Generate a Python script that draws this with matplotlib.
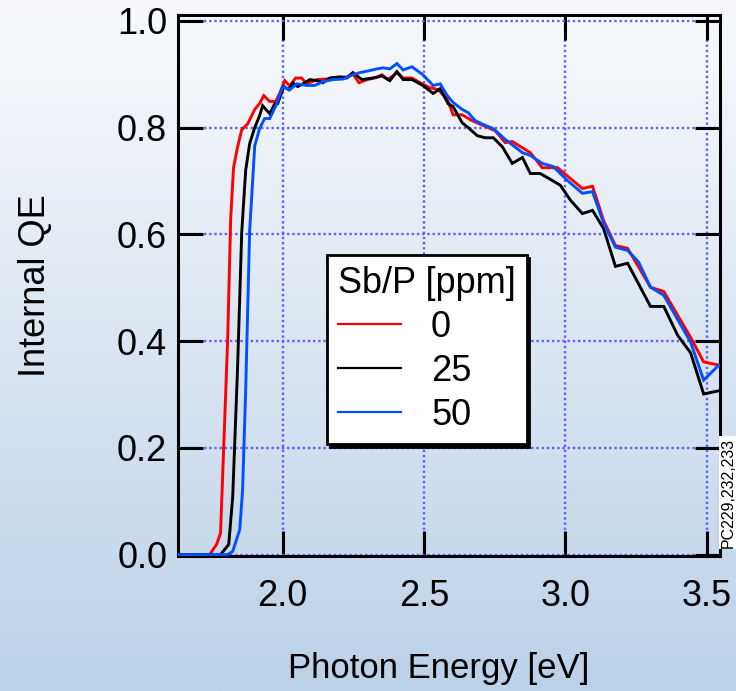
import numpy as np
import matplotlib
matplotlib.use("Agg")
import matplotlib.pyplot as plt
from matplotlib.colors import LinearSegmentedColormap

# ---------------- data ----------------
energy_0 = [1.628, 1.741, 1.766, 1.780, 1.805, 1.816, 1.826, 1.840, 1.855, 1.876,
            1.901, 1.918, 1.933, 1.954, 1.975, 1.989, 2.007, 2.025, 2.046, 2.067,
            2.085, 2.121, 2.156, 2.191, 2.227, 2.248, 2.270, 2.298, 2.333, 2.351,
            2.372, 2.404, 2.426, 2.457, 2.493, 2.521, 2.550, 2.582, 2.603, 2.635,
            2.670, 2.709, 2.752, 2.787, 2.812, 2.876, 2.918, 2.972, 3.060, 3.096,
            3.135, 3.177, 3.220, 3.301, 3.348, 3.443, 3.489, 3.543]
qe_0 = [0.0, 0.0, 0.019, 0.04, 0.40, 0.63, 0.725, 0.763, 0.796, 0.807,
        0.834, 0.845, 0.86, 0.849, 0.849, 0.864, 0.888, 0.878, 0.893, 0.893,
        0.882, 0.890, 0.891, 0.894, 0.895, 0.901, 0.884, 0.890, 0.894, 0.899,
        0.890, 0.903, 0.893, 0.893, 0.882, 0.875, 0.871, 0.853, 0.824, 0.824,
        0.813, 0.804, 0.794, 0.772, 0.774, 0.753, 0.725, 0.725, 0.686, 0.690,
        0.626, 0.579, 0.574, 0.501, 0.493, 0.407, 0.361, 0.355]

energy_25 = [1.628, 1.780, 1.809, 1.823, 1.840, 1.855, 1.869, 1.883, 1.901, 1.918,
             1.929, 1.954, 1.972, 1.982, 2.004, 2.021, 2.035, 2.053, 2.071, 2.096,
             2.121, 2.142, 2.167, 2.202, 2.227, 2.248, 2.280, 2.319, 2.351, 2.379,
             2.404, 2.426, 2.457, 2.496, 2.532, 2.557, 2.585, 2.603, 2.635, 2.656,
             2.688, 2.716, 2.745, 2.777, 2.812, 2.848, 2.876, 2.911, 2.947, 2.982,
             3.018, 3.060, 3.096, 3.135, 3.177, 3.220, 3.301, 3.348, 3.397, 3.443,
             3.489, 3.543]
qe_25 = [0.0, 0.0, 0.019, 0.108, 0.346, 0.604, 0.720, 0.770, 0.800, 0.822,
         0.841, 0.826, 0.845, 0.845, 0.877, 0.871, 0.884, 0.877, 0.882, 0.890,
         0.888, 0.884, 0.893, 0.895, 0.893, 0.903, 0.890, 0.893, 0.897, 0.888,
         0.905, 0.890, 0.890, 0.879, 0.864, 0.873, 0.845, 0.839, 0.809, 0.800,
         0.785, 0.781, 0.781, 0.764, 0.733, 0.744, 0.714, 0.714, 0.703, 0.692,
         0.664, 0.639, 0.645, 0.611, 0.540, 0.546, 0.465, 0.465, 0.411, 0.378,
         0.301, 0.307]

energy_50 = [1.628, 1.805, 1.823, 1.848, 1.858, 1.869, 1.883, 1.901, 1.918, 1.936,
             1.954, 1.979, 2.000, 2.025, 2.050, 2.085, 2.113, 2.142, 2.177, 2.213,
             2.248, 2.273, 2.309, 2.333, 2.355, 2.379, 2.404, 2.426, 2.457, 2.496,
             2.532, 2.557, 2.582, 2.603, 2.635, 2.656, 2.681, 2.709, 2.745, 2.787,
             2.848, 2.876, 2.918, 2.957, 3.007, 3.060, 3.096, 3.135, 3.177, 3.220,
             3.259, 3.301, 3.348, 3.443, 3.489, 3.543]
qe_50 = [0.0, 0.0, 0.006, 0.047, 0.121, 0.308, 0.607, 0.766, 0.798, 0.817,
         0.817, 0.845, 0.877, 0.871, 0.882, 0.879, 0.879, 0.886, 0.890, 0.891,
         0.899, 0.903, 0.907, 0.910, 0.912, 0.910, 0.920, 0.908, 0.914, 0.899,
         0.879, 0.882, 0.860, 0.847, 0.834, 0.828, 0.813, 0.806, 0.798, 0.778,
         0.753, 0.748, 0.733, 0.727, 0.701, 0.677, 0.680, 0.621, 0.576, 0.570,
         0.548, 0.501, 0.486, 0.398, 0.327, 0.355]

series_labels = ["0", "25", "50"]
series_colors = ["#ff0000", "#000000", "#0050ff"]
x_ticks = [2.0, 2.5, 3.0, 3.5]
x_tick_labels = ["2.0", "2.5", "3.0", "3.5"]
y_ticks = [0.0, 0.2, 0.4, 0.6, 0.8, 1.0]
y_tick_labels = ["0.0", "0.2", "0.4", "0.6", "0.8", "1.0"]

# ---------------- figure ----------------
plt.rcParams['font.family'] = ['Liberation Sans', 'DejaVu Sans']
FS = 26

fig = plt.figure(figsize=(7.36, 6.91), dpi=100)

# gradient background
bg = fig.add_axes([0, 0, 1, 1], zorder=-10)
grad = np.linspace(0, 1, 256).reshape(-1, 1)
cmap = LinearSegmentedColormap.from_list(
    "bg", [(0.0, "#f6f8fc"), (0.12, "#f2f5fa"), (1.0, "#bcd1e7")])
bg.imshow(grad, aspect="auto", cmap=cmap, extent=[0, 1, 0, 1], origin="upper")
bg.axis("off")

ax = fig.add_axes([0.2423, 0.1958, 0.736, 0.7825])
ax.patch.set_alpha(0)

xs = [energy_0, energy_25, energy_50]
ys = [qe_0, qe_25, qe_50]
for x, y, lab, col in zip(xs, ys, series_labels, series_colors):
    ax.plot(x, y, color=col, lw=2.1, label=lab, zorder=3, solid_joinstyle="miter")

ax.set_xlim(1.6307, 3.547)
ax.set_ylim(-0.002, 1.011)
ax.set_xticks(x_ticks, x_tick_labels)
ax.set_yticks(y_ticks, y_tick_labels)
ax.grid(True, color="#6060ff", linestyle=(0, (1, 1.2)), linewidth=1.7, zorder=1)
ax.set_axisbelow(True)

for sp in ax.spines.values():
    sp.set_linewidth(2.2)
    sp.set_color("black")

ax.tick_params(direction="in", length=18, width=2.2, top=True, right=True,
               labelsize=FS, colors="black")
ax.tick_params(axis="x", pad=16.5)
ax.tick_params(axis="y", pad=8)

ax.set_xlabel("Photon Energy [eV]", fontsize=25)
ax.xaxis.set_label_coords(0.48, -0.2085)
ax.xaxis.label.set_va("center")
ax.set_ylabel("Internal QE", fontsize=FS)
ax.yaxis.set_label_coords(-0.2646, 0.5)
ax.yaxis.label.set_va("center")

leg = ax.legend(title="Sb/P [ppm]", loc="upper left", bbox_to_anchor=(0.2745, 0.5561),
                borderaxespad=0, fontsize=FS, title_fontsize=FS, frameon=True,
                fancybox=False, framealpha=1, edgecolor="black",
                handlelength=1.75, handletextpad=0.83, labelspacing=0.25,
                borderpad=0.3, alignment="left",
                shadow={"color": "black", "alpha": 1})
leg.get_frame().set_linewidth(2.0)
for ln in leg.get_lines():
    ln.set_linewidth(1.6)
leg.set_zorder(5)

fig.text(0.989, 0.207, "PC229,232,233", rotation=90, ha="center", va="bottom",
         fontsize=11.5, color="black",
         bbox=dict(facecolor="white", edgecolor="none", pad=1.0))

fig.savefig("out.png", dpi=100)
